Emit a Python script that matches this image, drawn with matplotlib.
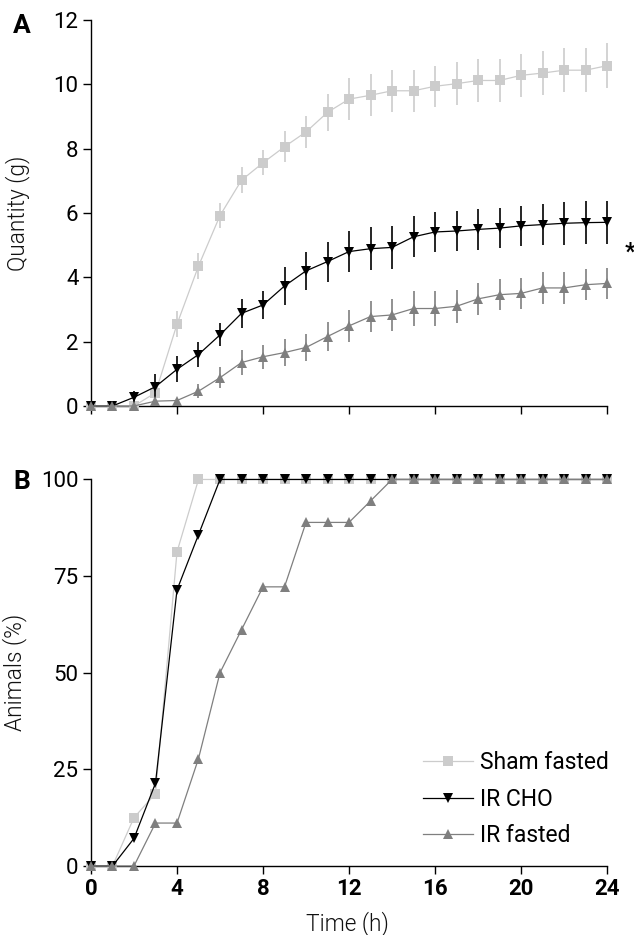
import matplotlib
matplotlib.use('Agg')
import matplotlib.pyplot as plt

plt.rcParams['font.family'] = ['Roboto', 'DejaVu Sans']

hours = list(range(0, 25))
group_names = ['Sham fasted', 'IR CHO', 'IR fasted']
group_colors = ['#cccccc', '#000000', '#7f7f7f']
group_markers = ['s', 'v', '^']

# panel A: cumulative quantity eaten (g), mean and error
sham_qty = [0, 0, 0, 0.41, 2.54, 4.35, 5.92, 7.02, 7.56, 8.06, 8.52, 9.13, 9.54,
            9.66, 9.80, 9.80, 9.94, 10.02, 10.12, 10.12, 10.28, 10.35, 10.44, 10.44, 10.58]
sham_err = [0, 0, 0, 0.15, 0.4, 0.4, 0.4, 0.4, 0.39, 0.48, 0.49, 0.58, 0.65,
            0.65, 0.66, 0.66, 0.64, 0.67, 0.66, 0.66, 0.67, 0.68, 0.69, 0.69, 0.69]
cho_qty = [0, 0, 0.27, 0.6, 1.14, 1.6, 2.21, 2.88, 3.14, 3.73, 4.2, 4.49, 4.8,
           4.89, 4.93, 5.26, 5.41, 5.44, 5.49, 5.53, 5.6, 5.64, 5.68, 5.7, 5.71]
cho_err = [0, 0, 0.2, 0.38, 0.4, 0.38, 0.36, 0.45, 0.44, 0.58, 0.6, 0.62, 0.64,
           0.66, 0.67, 0.64, 0.62, 0.62, 0.64, 0.63, 0.63, 0.64, 0.66, 0.66, 0.66]
fasted_qty = [0, 0, 0, 0.15, 0.17, 0.46, 0.88, 1.35, 1.53, 1.66, 1.82, 2.16, 2.49,
              2.78, 2.83, 3.03, 3.03, 3.10, 3.33, 3.46, 3.50, 3.67, 3.67, 3.77, 3.81]
fasted_err = [0, 0, 0, 0.05, 0.05, 0.22, 0.32, 0.4, 0.37, 0.42, 0.42, 0.45, 0.49,
              0.49, 0.5, 0.53, 0.53, 0.51, 0.5, 0.49, 0.48, 0.49, 0.49, 0.48, 0.47]

# panel B: animals that have eaten (%)
sham_pct = [0, 0, 12.5, 18.75, 81.25] + [100] * 20
cho_pct = [0, 0, 7.14, 21.43, 71.43, 85.71] + [100] * 19
fasted_pct = [0, 0, 0, 11.11, 11.11, 27.78, 50, 61.11, 72.22, 72.22, 88.89, 88.89,
              88.89, 94.44] + [100] * 11

fig = plt.figure(figsize=(6.34, 9.35), dpi=100)
axA = fig.add_axes([0.1435, 0.5658, 0.814, 0.4128])
axB = fig.add_axes([0.1435, 0.0738, 0.814, 0.4134])

label_font = dict(fontsize=16.3, fontweight=300, color='#111111')


def style_axis(ax):
    ax.spines['top'].set_visible(False)
    ax.spines['right'].set_visible(False)
    ax.spines['left'].set_linewidth(1.0)
    ax.spines['bottom'].set_linewidth(1.0)
    ax.tick_params(direction='out', length=6, width=1.0, labelsize=16, pad=3)
    ax.set_xlim(0, 24)
    ax.set_xticks(range(0, 25, 4))


qty = [sham_qty, cho_qty, fasted_qty]
errs = [sham_err, cho_err, fasted_err]
for i in range(3):
    axA.errorbar(hours, qty[i], yerr=errs[i], color=group_colors[i], marker=group_markers[i],
                 markersize=7.5, markeredgewidth=0, lw=0.9, elinewidth=1.2, capsize=4.5,
                 capthick=1.2, clip_on=False, zorder=3 + i)
style_axis(axA)
axA.set_ylim(0, 12)
axA.set_yticks(range(0, 13, 2))
axA.tick_params(axis='x', labelbottom=False)
axA.set_ylabel('Quantity (g)', **label_font)
axA.yaxis.set_label_coords(-0.118, 0.5)
axA.text(1.045, 0.40, '*', transform=axA.transAxes, ha='center', va='center',
         fontsize=17, fontweight='bold')

pct = [sham_pct, cho_pct, fasted_pct]
for i in range(3):
    axB.plot(hours, pct[i], color=group_colors[i], marker=group_markers[i], markersize=7.5,
             markeredgewidth=0, lw=0.9, clip_on=False, zorder=3 + i, label=group_names[i])
style_axis(axB)
axB.set_ylim(0, 100)
axB.set_yticks([0, 25, 50, 75, 100])
for lab in axB.get_xticklabels():
    lab.set_fontweight('bold')
axB.set_ylabel('Animals (%)', **label_font)
axB.yaxis.set_label_coords(-0.124, 0.5)
axB.set_xlabel('Time (h)', **label_font)
axB.xaxis.set_label_coords(0.496, -0.117)
axB.legend(loc='upper left', bbox_to_anchor=(0.643, 0.298), frameon=False, fontsize=16.5,
           handlelength=2.2, handletextpad=0.3, labelspacing=0.6, borderpad=0,
           borderaxespad=0)

fig.text(22 / 634, 1 - 26 / 935, 'A', ha='center', va='center', fontsize=19, fontweight='bold')
fig.text(22 / 634, 1 - 482 / 935, 'B', ha='center', va='center', fontsize=19, fontweight='bold')

plt.savefig('out.png', dpi=100)
